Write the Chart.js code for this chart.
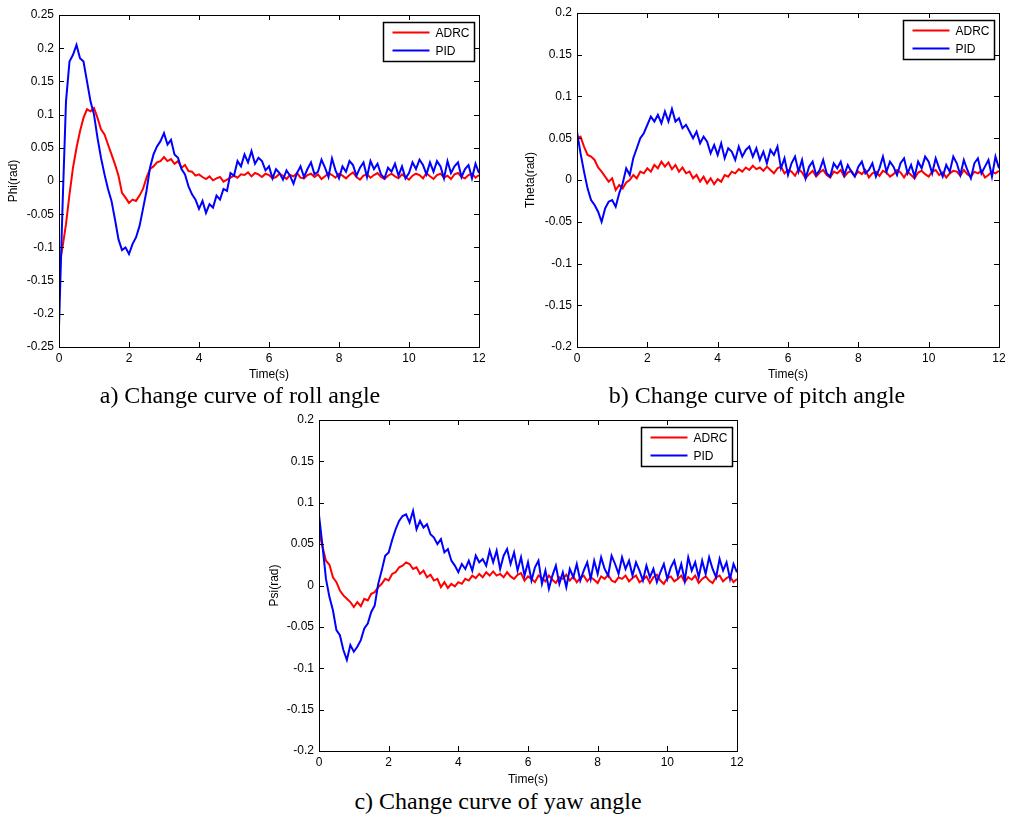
<!DOCTYPE html>
<html lang="en">
<head>
    <meta charset="UTF-8">
    <title>ADRC vs PID attitude curves</title>
    <script src="https://cdn.jsdelivr.net/npm/chart.js"></script>
    <style>
        body {
            margin: 0;
            padding: 0;
            background: #fff;
            width: 1010px;
            height: 815px;
            position: relative;
            overflow: hidden;
        }

        canvas {
            position: absolute;
        }

        /* figure captions under each plot */
        .caption {
            position: absolute;
            font-family: 'Liberation Serif', 'Times New Roman', serif;
            font-size: 24px;
            color: #000;
            white-space: nowrap;
            transform: translate(-50%, -50%);
        }
    </style>
</head>
<body>
    <canvas id="roll" width="500" height="382" style="left:0px;top:0px"></canvas>
    <canvas id="pitch" width="492" height="382" style="left:518px;top:0px"></canvas>
    <canvas id="yaw" width="490" height="382" style="left:260px;top:405px"></canvas>

    <div class="caption" style="left:240px;top:395px">a) Change curve of roll angle</div>
    <div class="caption" style="left:757px;top:395px">b) Change curve of pitch angle</div>
    <div class="caption" style="left:498px;top:801px">c) Change curve of yaw angle</div>

    <script>
        // sample times (s)
        const time = [
            0, 0.1, 0.2, 0.3, 0.4, 0.5, 0.6, 0.7, 0.8, 0.9,
            1, 1.1, 1.2, 1.3, 1.4, 1.5, 1.6, 1.7, 1.8, 1.9,
            2, 2.1, 2.2, 2.3, 2.4, 2.5, 2.6, 2.7, 2.8, 2.9,
            3, 3.1, 3.2, 3.3, 3.4, 3.5, 3.6, 3.7, 3.8, 3.9,
            4, 4.1, 4.2, 4.3, 4.4, 4.5, 4.6, 4.7, 4.8, 4.9,
            5, 5.1, 5.2, 5.3, 5.4, 5.5, 5.6, 5.7, 5.8, 5.9,
            6, 6.1, 6.2, 6.3, 6.4, 6.5, 6.6, 6.7, 6.8, 6.9,
            7, 7.1, 7.2, 7.3, 7.4, 7.5, 7.6, 7.7, 7.8, 7.9,
            8, 8.1, 8.2, 8.3, 8.4, 8.5, 8.6, 8.7, 8.8, 8.9,
            9, 9.1, 9.2, 9.3, 9.4, 9.5, 9.6, 9.7, 9.8, 9.9,
            10, 10.1, 10.2, 10.3, 10.4, 10.5, 10.6, 10.7, 10.8, 10.9,
            11, 11.1, 11.2, 11.3, 11.4, 11.5, 11.6, 11.7, 11.8, 11.9,
            12
        ];

        const seriesNames = ['ADRC', 'PID'];
        const xTicks = [0, 2, 4, 6, 8, 10, 12];

        // a) roll angle Phi (rad)
        const rollADRC = [
            -0.13, -0.1, -0.065, -0.02, 0.02, 0.05, 0.075, 0.095, 0.108, 0.105,
            0.11, 0.095, 0.078, 0.07, 0.055, 0.04, 0.025, 0.008, -0.018, -0.025,
            -0.033, -0.028, -0.03, -0.022, -0.012, 0.005, 0.018, 0.022, 0.028, 0.03,
            0.036, 0.03, 0.033, 0.026, 0.03, 0.02, 0.024, 0.015, 0.014, 0.008,
            0.01, 0.006, 0.003, 0.007, 0.001, 0.004, 0.006, -0.001, 0.002, 0.005,
            0.008, 0.005, 0.01, 0.009, 0.013, 0.007, 0.012, 0.01, 0.006, 0.011,
            0.009, 0.004, 0.006, 0.011, 0.008, 0.003, 0.009, 0.007, 0.012, 0.005,
            0.004, 0.009, 0.011, 0.006, 0.01, 0.003, 0.007, 0.012, 0.009, 0.005,
            0.011, 0.008, 0.004, 0.009, 0.013, 0.006, 0.002, 0.008, 0.01, 0.005,
            0.009, 0.012, 0.006, 0.003, 0.008, 0.011, 0.007, 0.004, 0.01, 0.006,
            0.002, 0.008, 0.011, 0.009, 0.004, 0.012, 0.007, 0.003, 0.009, 0.011,
            0.005, 0.008, 0.003, 0.01, 0.012, 0.006, 0.004, 0.009, 0.011, 0.005,
            0.009
        ];
        const rollPID = [
            -0.22, -0.04, 0.12, 0.18, 0.19, 0.205, 0.185, 0.18, 0.15, 0.12,
            0.1, 0.065, 0.035, 0.01, -0.012, -0.03, -0.058, -0.088, -0.104, -0.1,
            -0.11, -0.095, -0.085, -0.068, -0.042, -0.015, 0.02, 0.04, 0.052, 0.06,
            0.072, 0.055, 0.062, 0.04, 0.035, 0.018, 0.01, -0.008, -0.02, -0.028,
            -0.042, -0.03, -0.048, -0.035, -0.04, -0.022, -0.028, -0.012, -0.015, 0.012,
            0.008, 0.03, 0.022, 0.04, 0.028, 0.045, 0.026, 0.035, 0.03, 0.016,
            0.022, 0.004, 0.018, 0.012, 0.002, 0.016, 0.008, -0.004, 0.012, 0.022,
            0.006, 0.018, 0.028, 0.01, 0.014, 0.032, 0.02, 0.006, 0.034, 0.016,
            0.004, 0.022, 0.014, 0.03, 0.024, 0.008, 0.02, 0.028, 0.006, 0.03,
            0.018, 0.026, 0.01, 0.004, 0.02, 0.014, 0.026, 0.008, 0.022, 0.004,
            0.012, 0.028, 0.018, 0.032, 0.024, 0.01, 0.028, 0.014, 0.03, 0.022,
            0.004, 0.03, 0.012, 0.022, 0.028, 0.006, 0.018, 0.024, 0.004, 0.026,
            0.012
        ];
        const rollTicks = [-0.25, -0.2, -0.15, -0.1, -0.05, 0, 0.05, 0.1, 0.15, 0.2, 0.25];

        // b) pitch angle Theta (rad)
        const pitchADRC = [
            0.05, 0.052, 0.04, 0.03, 0.028, 0.024, 0.015, 0.01, 0.004, -0.002,
            0.002, -0.012, -0.006, -0.01, -0.003, 0, 0.006, 0.002, 0.01, 0.008,
            0.014, 0.01, 0.018, 0.014, 0.022, 0.016, 0.021, 0.013, 0.018, 0.01,
            0.015, 0.008, 0.01, 0.002, 0.006, -0.002, 0.004, -0.004, 0.002, -0.005,
            0.001, -0.002, 0.006, 0.004, 0.01, 0.008, 0.013, 0.01, 0.015, 0.012,
            0.017, 0.013, 0.015, 0.011, 0.016, 0.012, 0.008, 0.014, 0.016, 0.008,
            0.012, 0.01, 0.005, 0.013, 0.009, 0.002, 0.007, 0.011, 0.004, 0.009,
            0.012, 0.006, 0.003, 0.01, 0.008, 0.012, 0.004, 0.009, 0.011, 0.005,
            0.01, 0.007, 0.012, 0.003, 0.008, 0.01, 0.005, 0.011, 0.009, 0.004,
            0.007, 0.012, 0.009, 0.003, 0.01, 0.006, 0.002, 0.009, 0.011, 0.007,
            0.004, 0.01, 0.012, 0.006, 0.009, 0.003, 0.008, 0.011, 0.01, 0.005,
            0.012, 0.007, 0.004, 0.01, 0.008, 0.011, 0.003, 0.006, 0.01, 0.008,
            0.011
        ];
        const pitchPID = [
            0.058, 0.032, 0.01, -0.01, -0.024, -0.03, -0.038, -0.05, -0.034, -0.026,
            -0.024, -0.032, -0.016, -0.004, 0.014, 0.006, 0.026, 0.038, 0.05, 0.056,
            0.066, 0.076, 0.07, 0.078, 0.068, 0.082, 0.07, 0.085, 0.07, 0.074,
            0.062, 0.066, 0.058, 0.05, 0.058, 0.044, 0.052, 0.046, 0.032, 0.042,
            0.03, 0.044, 0.026, 0.038, 0.034, 0.024, 0.04, 0.028, 0.036, 0.04,
            0.028, 0.038, 0.024, 0.034, 0.02, 0.036, 0.03, 0.04, 0.014, 0.026,
            0.006, 0.02, 0.028, 0.01, 0.024, 0.002, 0.016, 0.022, 0.006, 0.012,
            0.024, 0.008, 0.004, 0.02, 0.014, 0.022, 0.006, 0.018, 0.01, 0.004,
            0.016, 0.022, 0.008, 0.012, 0.02, 0.004, 0.014, 0.028, 0.01, 0.022,
            0.016, 0.006, 0.02, 0.026, 0.008, 0.018, 0.004, 0.022, 0.014, 0.028,
            0.022, 0.008, 0.026, 0.014, 0.004, 0.018, 0.01, 0.028, 0.02, 0.006,
            0.024, 0.012, 0.002, 0.02, 0.026, 0.008, 0.016, 0.024, 0.004, 0.028,
            0.014
        ];
        const pitchTicks = [-0.2, -0.15, -0.1, -0.05, 0, 0.05, 0.1, 0.15, 0.2];

        // c) yaw angle Psi (rad)
        const yawADRC = [
            0.065, 0.047, 0.03, 0.025, 0.01, 0.004, -0.006, -0.012, -0.016, -0.02,
            -0.026, -0.02, -0.025, -0.016, -0.018, -0.01, -0.008, -0.002, 0.002, 0.008,
            0.006, 0.014, 0.016, 0.022, 0.024, 0.028, 0.026, 0.02, 0.022, 0.014,
            0.018, 0.01, 0.013, 0.006, 0.008, -0.002, 0.004, -0.003, 0.002, -0.001,
            0.004, 0.002, 0.008, 0.006, 0.012, 0.009, 0.014, 0.01, 0.016, 0.012,
            0.017, 0.012, 0.014, 0.01, 0.016, 0.011, 0.008, 0.013, 0.015, 0.006,
            0.011, 0.008, 0.004, 0.012, 0.009, 0.005, 0.012, 0.007, 0.003, 0.01,
            0.008, 0.013, 0.006, 0.011, 0.004, 0.009, 0.012, 0.005, 0.01, 0.007,
            0.003, 0.011, 0.008, 0.013, 0.006, 0.004, 0.01, 0.008, 0.012, 0.005,
            0.009, 0.012, 0.004, 0.007, 0.011, 0.003, 0.01, 0.013, 0.006, 0.002,
            0.009, 0.011, 0.005, 0.008, 0.012, 0.004, 0.01, 0.007, 0.012, 0.003,
            0.008, 0.011, 0.006, 0.003, 0.01, 0.012, 0.005, 0.009, 0.011, 0.004,
            0.008
        ];
        const yawPID = [
            0.085, 0.048, 0.008, -0.014, -0.03, -0.054, -0.06, -0.078, -0.09, -0.072,
            -0.08, -0.074, -0.066, -0.052, -0.046, -0.032, -0.024, 0.002, 0.018, 0.036,
            0.04, 0.055, 0.068, 0.078, 0.084, 0.086, 0.076, 0.09, 0.068, 0.078,
            0.07, 0.074, 0.062, 0.058, 0.05, 0.056, 0.04, 0.044, 0.03, 0.024,
            0.016, 0.026, 0.02, 0.03, 0.018, 0.036, 0.028, 0.032, 0.024, 0.042,
            0.028, 0.042, 0.02, 0.036, 0.044, 0.026, 0.04, 0.018, 0.034, 0.012,
            0.028, 0.006, 0.022, 0.03, 0.002, 0.018, -0.004, 0.012, 0.024, 0.002,
            0.016, -0.002, 0.02, 0.01, 0.026, 0.006, 0.018, 0.028, 0.008, 0.03,
            0.014, 0.034, 0.02, 0.012, 0.036, 0.026, 0.014, 0.034, 0.02, 0.03,
            0.012, 0.028, 0.018, 0.006, 0.024, 0.01, 0.02, 0.004, 0.016, 0.026,
            0.008, 0.022, 0.03, 0.012, 0.026, 0.006, 0.034, 0.018, 0.028, 0.01,
            0.03, 0.014, 0.034, 0.02, 0.01, 0.032, 0.018, 0.028, 0.008, 0.026,
            0.016
        ];
        const yawTicks = [-0.2, -0.15, -0.1, -0.05, 0, 0.05, 0.1, 0.15, 0.2];

        const FONT = "'Liberation Sans', Arial, sans-serif";
        const COLORS = ['#ff0000', '#0000ff'];

        // boxed axes with inward ticks on all four sides, like MATLAB
        const boxTicks = {
            id: 'boxTicks',
            afterDraw(chart) {
                const { ctx, chartArea: a, scales } = chart;
                const len = 5;
                ctx.save();
                ctx.strokeStyle = '#000';
                ctx.lineWidth = 1;
                ctx.beginPath();
                scales.x.ticks.forEach(t => {
                    const px = Math.round(scales.x.getPixelForValue(t.value)) + 0.5;
                    ctx.moveTo(px, a.bottom);
                    ctx.lineTo(px, a.bottom - len);
                    ctx.moveTo(px, a.top);
                    ctx.lineTo(px, a.top + len);
                });
                scales.y.ticks.forEach(t => {
                    const py = Math.round(scales.y.getPixelForValue(t.value)) + 0.5;
                    ctx.moveTo(a.left, py);
                    ctx.lineTo(a.left + len, py);
                    ctx.moveTo(a.right, py);
                    ctx.lineTo(a.right - len, py);
                });
                ctx.stroke();
                ctx.strokeRect(Math.round(a.left) + 0.5, Math.round(a.top) + 0.5,
                    Math.round(a.right - a.left), Math.round(a.bottom - a.top));
                ctx.restore();
            }
        };

        // framed legend in the upper right corner
        const boxLegend = {
            id: 'boxLegend',
            afterDraw(chart) {
                const { ctx, chartArea: a } = chart;
                const w = 91, h = 39;
                const x0 = Math.round(a.right - 5 - w) + 0.5;
                const y0 = Math.round(a.top + 7) + 0.5;
                ctx.save();
                ctx.fillStyle = '#fff';
                ctx.fillRect(x0, y0, w, h);
                ctx.strokeStyle = '#000';
                ctx.lineWidth = 1.5;
                ctx.strokeRect(x0, y0, w, h);
                ctx.font = '12px ' + FONT;
                ctx.textBaseline = 'middle';
                chart.data.datasets.forEach((ds, i) => {
                    const y = y0 + 10 + i * 18;
                    ctx.strokeStyle = ds.borderColor;
                    ctx.lineWidth = 2;
                    ctx.beginPath();
                    ctx.moveTo(x0 + 9, y);
                    ctx.lineTo(x0 + 46, y);
                    ctx.stroke();
                    ctx.fillStyle = '#000';
                    ctx.fillText(ds.label, x0 + 52, y + 1);
                });
                ctx.restore();
            }
        };

        function makeChart(id, adrc, pid, yTicks, yTitle, opts) {
            const ctx = document.getElementById(id).getContext('2d');
            const series = [adrc, pid];
            return new Chart(ctx, {
                type: 'line',
                data: {
                    datasets: series.map((vals, i) => ({
                        label: seriesNames[i],
                        data: vals.map((v, k) => ({ x: time[k], y: v })),
                        borderColor: COLORS[i],
                        borderWidth: 2,
                        pointRadius: 0,
                        tension: 0,
                        fill: false,
                        order: i === 0 ? 1 : 0
                    }))
                },
                options: {
                    responsive: false,
                    animation: false,
                    events: [],
                    layout: { padding: { top: opts.top, right: opts.right, left: 0, bottom: 0 } },
                    plugins: {
                        legend: { display: false },
                        tooltip: { enabled: false }
                    },
                    scales: {
                        x: {
                            type: 'linear',
                            min: xTicks[0],
                            max: xTicks[xTicks.length - 1],
                            afterBuildTicks: s => { s.ticks = xTicks.map(v => ({ value: v })); },
                            afterFit: s => { s.height = opts.xHeight; },
                            grid: { display: false, drawTicks: false },
                            border: { display: false },
                            ticks: {
                                padding: 4,
                                maxRotation: 0,
                                color: '#000',
                                font: { family: FONT, size: 12 }
                            },
                            title: {
                                display: true,
                                text: 'Time(s)',
                                color: '#000',
                                padding: { top: 0, bottom: 0 },
                                font: { family: FONT, size: 12 }
                            }
                        },
                        y: {
                            type: 'linear',
                            min: yTicks[0],
                            max: yTicks[yTicks.length - 1],
                            afterBuildTicks: s => { s.ticks = yTicks.map(v => ({ value: v })); },
                            afterFit: s => { s.width = 59; },
                            grid: { display: false, drawTicks: false },
                            border: { display: false },
                            ticks: {
                                padding: 5,
                                color: '#000',
                                font: { family: FONT, size: 12 },
                                callback: v => String(+Number(v).toFixed(3))
                            },
                            title: {
                                display: true,
                                text: yTitle,
                                color: '#000',
                                padding: { top: opts.yTitlePad, bottom: 0 },
                                font: { family: FONT, size: 12 }
                            }
                        }
                    }
                },
                plugins: [boxTicks, boxLegend]
            });
        }

        makeChart('roll', rollADRC, rollPID, rollTicks, 'Phi(rad)',
            { top: 15, right: 21, xHeight: 35, yTitlePad: 6 });
        makeChart('pitch', pitchADRC, pitchPID, pitchTicks, 'Theta(rad)',
            { top: 13, right: 11, xHeight: 35, yTitlePad: 5 });
        makeChart('yaw', yawADRC, yawPID, yawTicks, 'Psi(rad)',
            { top: 15, right: 13, xHeight: 36, yTitlePad: 7 });
    </script>
</body>
</html>
